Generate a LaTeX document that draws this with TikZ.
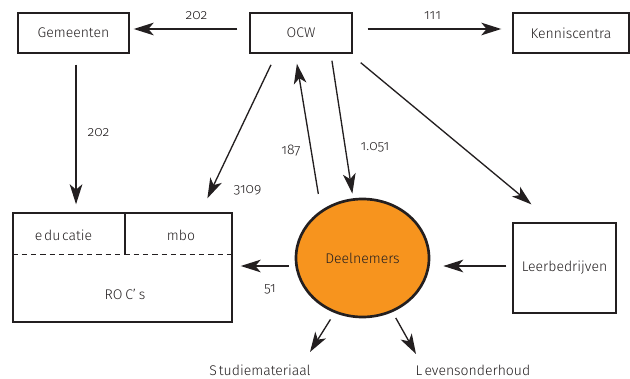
\documentclass[tikz,border=0pt]{standalone}
\usepackage{fontspec}
\setmainfont{Fira Sans Light}[Numbers=OldStyle]
\usetikzlibrary{arrows.meta, calc, positioning, shapes.geometric}
\definecolor{deelorange}{HTML}{F7941E}
\definecolor{inkt}{HTML}{231F20}

\begin{document}
\begin{tikzpicture}[x=0.75pt, y=-0.75pt, inkt,
    every node/.style={font=\fontsize{10.5}{12}\selectfont, text=inkt},
    box/.style={draw, line width=1.1pt, inner sep=0pt, minimum height=30pt},
    pijl/.style={-{Stealth[length=15pt, width=9.5pt, inset=4pt]}, line width=1pt}]
    \useasboundingbox (0,0) rectangle (630,378);

    % bovenste rij
    \node[box, minimum width=83.25pt] (gem) at (73.5,33) {Gemeenten};
    \node[box, minimum width=76.5pt] (ocw) at (301,33) {OCW};
    \node[box, minimum width=87pt] (ken) at (571,33) {Kenniscentra\hspace{8pt}};

    % ROC's met educatie en mbo
    \node[box, minimum width=164.25pt, minimum height=81.75pt] (roc) at (122.5,267.5) {};
    \draw[line width=1pt, dash pattern=on 4pt off 3pt] ([yshift=-31.5pt]roc.north west) -- ([yshift=-31.5pt]roc.north east);
    \draw[line width=1pt] ([xshift=1.9pt]roc.north) -- ([xshift=1.9pt, yshift=-31.5pt]roc.north);
    \node (edu) at (63.5,235) {e\hspace{.12em}du\hspace{.12em}catie};
    \node (mbo) at (181,235) {mbo};
    \node (rocs) at (125,294) {RO\hspace{.2em}C’\hspace{.2em}s};

    % deelnemers en leerbedrijven
    \node[ellipse, draw, line width=2pt, fill=deelorange, inner sep=0pt, minimum width=99.75pt, minimum height=88.5pt] (del) at (362.5,258) {Deelnemers};
    \node[box, minimum width=77.25pt, minimum height=67.5pt] (leer) at (564.5,268) {Leerbedrijven};

    % onderste labels
    \node (stud) at (260,370) {S\hspace{.15em}tudiemateriaal};
    \node (lev) at (473,370) {L\hspace{.15em}evensonderhoud};
    \coordinate (studpunt) at (310,352);
    \coordinate (levpunt) at (416,354);

    % geldstromen
    \draw[pijl, shorten <=9pt, shorten >=3pt] ([yshift=3pt]ocw.west) -- ([yshift=3pt]gem.east);
    \draw[pijl, shorten <=11.25pt, shorten >=8.25pt] ([yshift=3pt]ocw.east) -- ([yshift=3pt]ken.west);
    \draw[pijl, shorten <=8.25pt, shorten >=6pt] ([xshift=1.9pt]gem.south) -- ([xshift=1.9pt]gem.south |- roc.north);
    \draw[pijl, shorten <=9.2pt, shorten >=11.6pt] ([xshift=20.25pt]ocw.south west) -- ([xshift=-24pt]roc.north east);
    \draw[pijl, shorten <=12.4pt, shorten >=7.6pt] (del.131) -- ([xshift=-4.3pt]ocw.south);
    \draw[pijl, shorten <=5.3pt, shorten >=3.5pt] ([xshift=22.4pt]ocw.south) -- (del.99);
    \draw[pijl, shorten <=10.5pt, shorten >=21pt] ([xshift=-2.1pt]ocw.south east) -- ([xshift=30.5pt]leer.north west);
    \draw[pijl, shorten <=4.5pt, shorten >=9.75pt] ([yshift=1.5pt]leer.west) -- ([yshift=1.5pt]leer.west -| del.east);
    \draw[pijl, shorten <=4.5pt, shorten >=6pt] ([yshift=-6pt]del.west) -- ([yshift=-6pt]del.west -| roc.east);
    \draw[pijl, shorten <=5.7pt] (del.243) -- (studpunt);
    \draw[pijl, shorten <=5pt] (del.299) -- (levpunt);

    % bedragen
    \node (b202a) at (196.5,16) {202};
    \node (b111) at (432.5,16) {111};
    \node (b202b) at (98.5,133) {202};
    \node (b3109) at (247.5,190) {3109};
    \node (b187) at (291,151) {187};
    \node (b1051) at (375,147) {1.051};
    \node (b51) at (270,289) {51};
\end{tikzpicture}
\end{document}
